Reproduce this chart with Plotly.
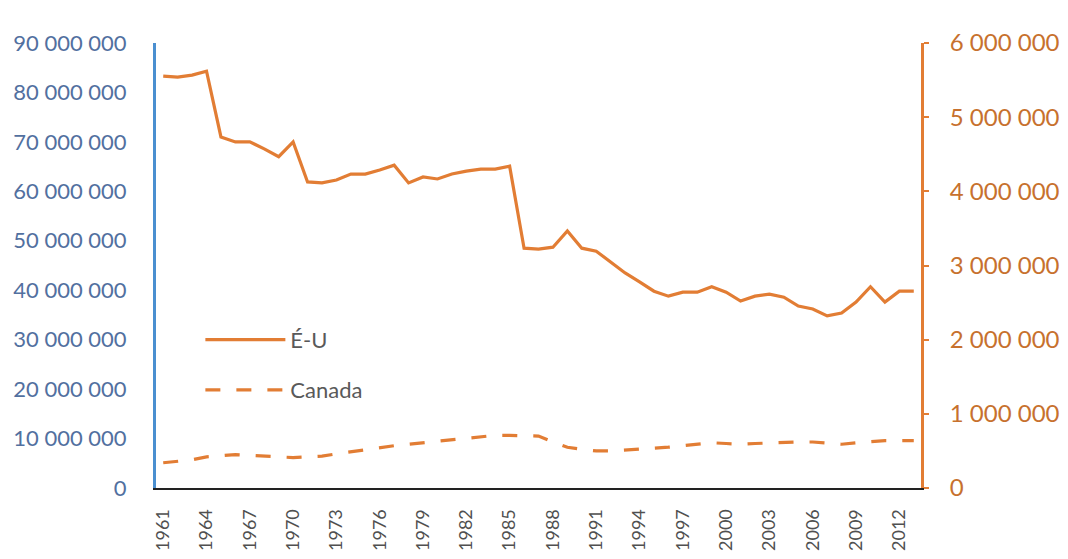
import plotly.graph_objects as go

years = list(range(1961, 2014))

eu_values = [
    83.3, 83.1, 83.5, 84.3, 71.0, 70.0, 70.0, 68.6, 67.0, 70.0,
    61.9, 61.7, 62.3, 63.5, 63.5, 64.3, 65.3, 61.7, 62.9, 62.5,
    63.5, 64.1, 64.5, 64.5, 65.1, 48.5, 48.3, 48.7, 52.0, 48.5,
    47.9, 45.7, 43.5, 41.7, 39.8, 38.8, 39.6, 39.6, 40.7, 39.6,
    37.8, 38.8, 39.2, 38.6, 36.8, 36.2, 34.8, 35.4, 37.6, 40.7,
    37.6, 39.8, 39.8,
]
eu_values = [v * 1_000_000 for v in eu_values]

canada_values = [
    0.34, 0.36, 0.38, 0.42, 0.44, 0.45, 0.44, 0.43, 0.42, 0.41,
    0.42, 0.43, 0.46, 0.49, 0.52, 0.55, 0.57, 0.59, 0.61, 0.63,
    0.66, 0.68, 0.70, 0.71, 0.71, 0.71, 0.70, 0.62, 0.55, 0.52,
    0.50, 0.50, 0.51, 0.52, 0.53, 0.55, 0.57, 0.59, 0.61, 0.60,
    0.59, 0.60, 0.61, 0.61, 0.62, 0.62, 0.60, 0.59, 0.61, 0.63,
    0.64, 0.64, 0.64,
]
canada_values = [v * 1_000_000 for v in canada_values]

x_tick_years = list(range(1961, 2013, 3))
left_ticks = list(range(0, 90_000_001, 10_000_000))
right_ticks = list(range(0, 6_000_001, 1_000_000))

ORANGE = "#e27d34"
FONT = "Lato"

fig = go.Figure()
fig.add_trace(go.Scatter(
    x=years, y=eu_values, name="É-U", mode="lines",
    line=dict(color=ORANGE, width=3.2), yaxis="y", legend="legend",
    showlegend=True,
))
fig.add_trace(go.Scatter(
    x=years, y=canada_values, name="Canada", mode="lines",
    line=dict(color=ORANGE, width=3.2, dash="15px,16px"), yaxis="y2", legend="legend2",
    showlegend=True,
))

fig.update_layout(
    width=1068, height=559,
    margin=dict(l=156, r=147, t=43, b=71),
    paper_bgcolor="white", plot_bgcolor="white",
    separators=", ",
    showlegend=True,
    font=dict(family=FONT, size=17, color="#595959"),
    xaxis=dict(
        range=[1960.5, 2013.5], tickmode="array", tickvals=x_tick_years,
        ticktext=[str(y) for y in x_tick_years], tickangle=-90,
        showline=True, linecolor="#222222", linewidth=2, showgrid=False,
        zeroline=False, ticks="", tickfont=dict(size=18, color="#505050"),
        ticklabelstandoff=12, automargin=False,
    ),
    yaxis=dict(
        range=[0, 90_000_000], tickmode="array", tickvals=left_ticks,
        tickformat=",d", showline=True, linecolor="#4a8fd0", linewidth=3,
        showgrid=False, zeroline=False, ticks="", automargin=False,
        tickfont=dict(size=22, color="#52709f"), ticklabelstandoff=22,
    ),
    yaxis2=dict(
        range=[0, 6_000_000], tickmode="array", tickvals=right_ticks,
        tickformat=",d", overlaying="y", side="right", showline=True,
        linecolor=ORANGE, linewidth=3, showgrid=False, zeroline=False,
        ticks="outside", ticklen=5, tickcolor=ORANGE, tickwidth=2,
        automargin=False,
        tickfont=dict(size=24, color="#c7712e"), ticklabelstandoff=16,
    ),
    legend=dict(
        x=0.058, y=0.333, xanchor="left", yanchor="middle",
        bgcolor="rgba(0,0,0,0)", itemwidth=80,
        font=dict(size=22, color="#595959"),
    ),
    legend2=dict(
        x=0.058, y=0.22, xanchor="left", yanchor="middle",
        bgcolor="rgba(0,0,0,0)", itemwidth=80,
        font=dict(size=22, color="#595959"),
    ),
)

fig.write_html("out.html")
